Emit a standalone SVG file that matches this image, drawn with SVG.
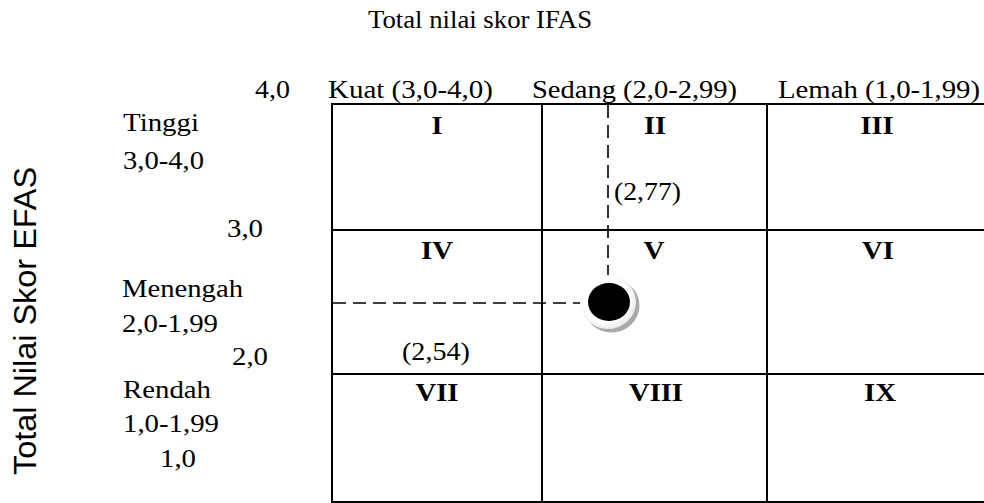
<svg xmlns="http://www.w3.org/2000/svg" width="984" height="503" viewBox="0 0 984 503">
  <style>
    .t { font-family: "Liberation Serif", "Times New Roman", serif; font-size: 26px; fill: #000; }
    .b { font-family: "Liberation Serif", "Times New Roman", serif; font-size: 26px; font-weight: bold; fill: #000; text-anchor: middle; }
    .ax { font-family: "Liberation Sans", Arial, sans-serif; font-size: 31px; fill: #000; }
    .grid { stroke: #000; stroke-width: 2; fill: none; }
    .dash { stroke: #000; stroke-width: 1.6; stroke-dasharray: 13 7; fill: none; }
  </style>
  <defs>
    <radialGradient id="ringFill" cx="0.45" cy="0.45" r="0.6">
      <stop offset="0.7" stop-color="#ffffff"/>
      <stop offset="1" stop-color="#e4e4e4"/>
    </radialGradient>
  </defs>

  <rect width="984" height="503" fill="#fff"/>

  <!-- axis titles -->
  <g id="axis-ifas">
    <text class="t" x="368" y="28" font-size="24" textLength="224" lengthAdjust="spacingAndGlyphs">Total nilai skor IFAS</text>
  </g>
  <g id="axis-efas">
    <text class="ax" transform="translate(36 475) rotate(-90)" x="0" y="0" textLength="308" lengthAdjust="spacingAndGlyphs">Total Nilai Skor EFAS</text>
  </g>

  <!-- column headings -->
  <g id="col-heads">
    <text class="t" x="255" y="98" textLength="35" lengthAdjust="spacingAndGlyphs">4,0</text>
    <text class="t" x="328" y="98" textLength="165" lengthAdjust="spacingAndGlyphs">Kuat (3,0-4,0)</text>
    <text class="t" x="532" y="98" textLength="205" lengthAdjust="spacingAndGlyphs">Sedang (2,0-2,99)</text>
    <text class="t" x="778" y="98" textLength="202" lengthAdjust="spacingAndGlyphs">Lemah (1,0-1,99)</text>
  </g>

  <!-- row headings -->
  <g id="row-heads">
    <text class="t" x="123" y="131" textLength="76" lengthAdjust="spacingAndGlyphs">Tinggi</text>
    <text class="t" x="123" y="169" textLength="81" lengthAdjust="spacingAndGlyphs">3,0-4,0</text>
    <text class="t" x="227" y="237" textLength="36" lengthAdjust="spacingAndGlyphs">3,0</text>
    <text class="t" x="122" y="297" textLength="121" lengthAdjust="spacingAndGlyphs">Menengah</text>
    <text class="t" x="122" y="332" textLength="96" lengthAdjust="spacingAndGlyphs">2,0-1,99</text>
    <text class="t" x="232" y="365" textLength="36" lengthAdjust="spacingAndGlyphs">2,0</text>
    <text class="t" x="123" y="398" textLength="88" lengthAdjust="spacingAndGlyphs">Rendah</text>
    <text class="t" x="123" y="432" textLength="96" lengthAdjust="spacingAndGlyphs">1,0-1,99</text>
    <text class="t" x="160" y="467" textLength="36" lengthAdjust="spacingAndGlyphs">1,0</text>
  </g>

  <!-- matrix grid (right side runs off the canvas) -->
  <g id="grid">
    <path class="grid" d="M332 104 H990 M332 230 H990 M332 374 H990 M332 502 H990 M332 103 V503 M542 104 V502 M767 104 V502"/>
  </g>

  <!-- cells -->
  <g id="cell-I"><text class="b" x="437" y="134" textLength="11" lengthAdjust="spacingAndGlyphs">I</text></g>
  <g id="cell-II"><text class="b" x="655" y="134" textLength="22" lengthAdjust="spacingAndGlyphs">II</text></g>
  <g id="cell-III"><text class="b" x="877" y="134" textLength="33" lengthAdjust="spacingAndGlyphs">III</text></g>
  <g id="cell-IV"><text class="b" x="437" y="259" textLength="32" lengthAdjust="spacingAndGlyphs">IV</text></g>
  <g id="cell-V"><text class="b" x="654" y="259" textLength="21" lengthAdjust="spacingAndGlyphs">V</text></g>
  <g id="cell-VI"><text class="b" x="878" y="259" textLength="32" lengthAdjust="spacingAndGlyphs">VI</text></g>
  <g id="cell-VII"><text class="b" x="437" y="401" textLength="43" lengthAdjust="spacingAndGlyphs">VII</text></g>
  <g id="cell-VIII"><text class="b" x="656" y="401" textLength="54" lengthAdjust="spacingAndGlyphs">VIII</text></g>
  <g id="cell-IX"><text class="b" x="880" y="401" textLength="32" lengthAdjust="spacingAndGlyphs">IX</text></g>

  <!-- guide lines to the position marker -->
  <g id="connectors">
    <line class="dash" x1="608" y1="105" x2="608" y2="276"/>
    <line class="dash" x1="333" y1="303" x2="581" y2="303"/>
  </g>

  <!-- score values -->
  <g id="score-ifas"><text class="t" x="614" y="200" textLength="67" lengthAdjust="spacingAndGlyphs">(2,77)</text></g>
  <g id="score-efas"><text class="t" x="402" y="360" textLength="68" lengthAdjust="spacingAndGlyphs">(2,54)</text></g>

  <!-- position marker -->
  <g id="marker">
    <ellipse cx="611.5" cy="305.5" rx="28" ry="27" fill="#a9a9a9"/>
    <ellipse cx="608" cy="302" rx="28" ry="27" fill="url(#ringFill)"/>
    <ellipse cx="609" cy="302" rx="21" ry="19" fill="#000"/>
  </g>
</svg>
